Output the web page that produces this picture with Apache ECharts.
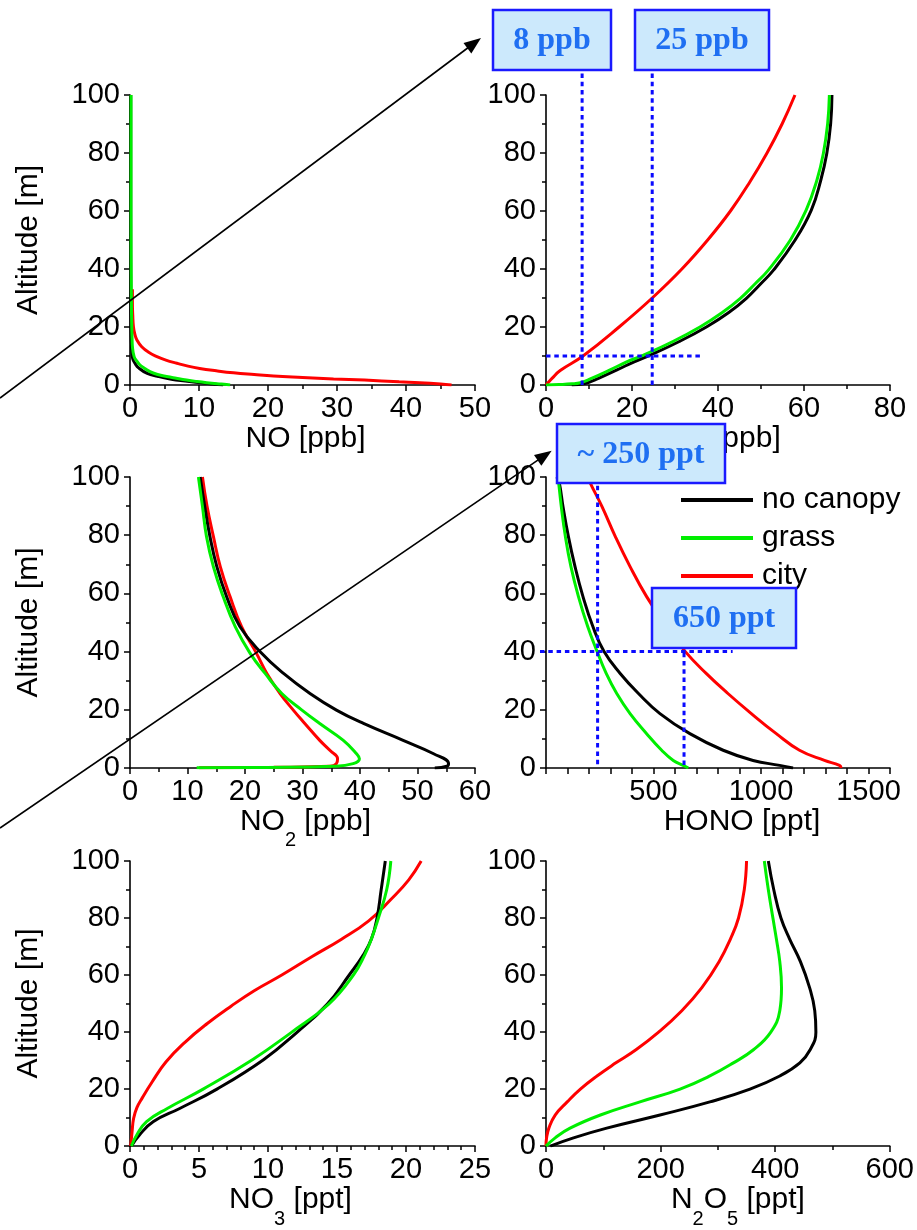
<!DOCTYPE html>
<html><head><meta charset="utf-8">
<script src="https://cdn.jsdelivr.net/npm/echarts@6/dist/echarts.min.js"></script>
<style>html,body{margin:0;padding:0;background:#fff}#c{width:917px;height:1230px}</style>
</head><body><div id="c"></div>
<script>
// ---------- DATA: [concentration, altitude m] ----------
const NO_none  = [[0.1,100],[0.1,40],[0.15,20],[0.25,12],[0.4,9],[0.8,7.2],[1.2,6],[2.5,4],[4,3],[6,2],[8,1.4],[11,0.6],[13.5,0]];
const NO_grass = [[0.15,100],[0.15,60],[0.2,30],[0.25,20],[0.3,16],[0.35,13.2],[0.6,9.8],[1.0,8.2],[1.45,6.9],[2.2,5.6],[2.9,4.6],[4,3.6],[5.3,2.9],[6.7,2.3],[8.2,1.7],[9.7,1.2],[11.1,0.8],[12.6,0.45],[14,0.2],[14.5,0]];
const NO_city  = [[0.35,33],[0.35,28],[0.4,24],[0.5,20],[0.7,17.5],[1.0,15.5],[1.7,13.2],[2.7,11.3],[3.9,9.8],[5.2,8.6],[6.8,7.5],[8.4,6.5],[10.1,5.7],[12.5,4.9],[15,4.2],[18,3.6],[20.8,3.1],[25,2.6],[29.5,2.1],[34,1.7],[39,1.1],[42,0.8],[45,0.35],[46.6,0]];

const O3_none  = [[6,0],[9,0.5],[12.2,2.3],[16.5,5.2],[20.5,8],[24.2,10.3],[31,15],[37.4,20.1],[42.5,25],[46.6,29.9],[50,35],[52.9,39.6],[57.9,49.9],[61.7,60.3],[63.9,70.6],[65.3,79.8],[66.2,90.1],[66.5,100]];
const O3_grass = [[0,0],[3,0.15],[6,0.4],[8,0.8],[10.3,2.1],[14.9,5.2],[18.5,7.8],[22.7,10.3],[29.5,15],[35.9,20.1],[41,25],[45.2,29.9],[48.7,35],[51.7,39.6],[56.8,49.9],[60.5,60.3],[63,70.6],[64.5,79.8],[65.5,90.1],[65.9,100]];
const O3_city  = [[0,0],[0.6,1],[1.4,2.3],[3.3,5],[8.6,10],[17.0,20],[24.7,30],[31.6,40],[37.6,50],[42.9,60],[47.4,70],[51.4,80],[54.9,90],[57.9,100]];

const NO2_none  = [[12.2,100],[13,89.9],[13.9,79.6],[15.1,69.2],[16.8,58.9],[19.1,48.6],[22.9,39.4],[26.7,32.5],[31.3,25.6],[35.9,19.9],[40.6,15.3],[47.5,9.5],[52.8,4.9],[55.4,1.5],[55.1,0.6],[53,0]];
const NO2_grass = [[11.9,100],[12.6,89.9],[13.3,79.6],[14.5,69.2],[16.2,58.9],[18.3,48.6],[20.9,39.4],[23.5,32.5],[26.4,25.6],[29.9,19.9],[33,15.3],[37.1,9.5],[39.4,4.9],[39.9,3.2],[38.8,1.5],[35.4,0.6],[23.8,0.2],[11.6,0.1]];
const NO2_city  = [[12.6,100],[13.4,89.9],[14.5,79.6],[15.7,69.2],[17.4,58.9],[19.4,48.6],[22,39.4],[23.8,32.5],[26.1,25.6],[28.4,19.9],[30.4,15.3],[33,9.5],[34.8,6],[36.1,3.2],[35.9,1.5],[34.8,0.6],[25,0.25],[12,0.1]];

const HONO_none  = [[50,100],[62,97.9],[79,89.9],[104,79.6],[135,69.2],[172,58.9],[218,48.6],[270,40],[345,32.5],[430,25.6],[530,18.7],[669,11.8],[824,6.1],[963,2.6],[1087,0.9],[1149,0]];
const HONO_grass = [[55,100],[59,97.9],[71,89.9],[90,79.6],[116,69.2],[151,58.9],[194,48.6],[238,40],[280,32.5],[329,25.6],[391,18.7],[468,11.8],[538,6.1],[592,2.6],[638,0.9],[662,0]];
const HONO_city  = [[195,100],[206,97.9],[260,89.9],[322,79.6],[391,69.2],[468,58.9],[561,48.6],[648,40],[745,32.5],[846,25.6],[955,18.7],[1071,11.8],[1179,6.1],[1295,2.6],[1365,0.9],[1373,0]];

const NO3_none  = [[0.1,0],[0.7,4],[1.7,8.6],[3.6,13.2],[6.3,20],[9.7,30.4],[12.1,39.9],[14.3,49.8],[15.9,60.1],[16.9,67],[17.5,72.7],[17.9,80],[18.2,89.9],[18.5,100]];
const NO3_grass = [[0.1,0],[0.5,4],[1.2,8.6],[2.7,13.2],[5.3,20],[8.9,30.4],[11.7,39.9],[14.4,49.8],[16.2,60.1],[17,67],[17.5,72.7],[18,80],[18.6,89.9],[18.9,100]];
const NO3_city  = [[0.05,0],[0.15,5],[0.26,9.7],[0.5,13.5],[0.9,17],[1.6,22.5],[2.6,29.5],[4.0,36.5],[5.6,43],[7.3,49],[9.0,54.5],[11.0,60],[13.2,66.5],[15.3,72.5],[17.3,79],[18.9,86.5],[20.2,93.4],[21.1,100]];

const N2O5_none  = [[7.5,0],[48,2.9],[106,6.3],[199,10.9],[286,15.5],[356,20],[408,24.6],[443,29.2],[461,33.8],[471,39.9],[469,47.5],[460,55.6],[444,64.7],[425,72.7],[410,80],[397.5,89.9],[388,100]];
const N2O5_grass = [[0,0],[16,2.9],[42,6.3],[95,10.9],[164,15.5],[234,20],[286,24.6],[327,29.2],[362,33.8],[392,39.9],[408,47.5],[411,55.6],[408,64.7],[402,72.7],[396,80],[388,89.9],[381,100]];
const N2O5_city  = [[0,0],[1,2.9],[5,6.3],[16,10.9],[37,15.5],[60,20],[89,24.6],[122,29.2],[157,33.8],[196,39.9],[237,47.5],[272,55.6],[302,64.7],[322,72.7],[336,80],[346,89.9],[350,100]];

const seriesNames = ['no canopy','grass','city'];
const xNames = ['{a|NO [ppb]}','{a|O}{s|3}{a| [ppb]}','{a|NO}{s|2}{a| [ppb]}','{a|HONO [ppt]}','{a|NO}{s|3}{a| [ppt]}','{a|N}{s|2}{a|O}{s|5}{a| [ppt]}'];
const yName = 'Altitude [m]';
const xMax = [50, 80, 60, 1600, 25, 600];
const xStep = [10, 20, 10, 100, 5, 200];
const xLabelStep = [10, 20, 10, 500, 5, 200];
const xMinorSplit = [2, 2, 2, 0, 5, 2];
const yTicks = [0, 20, 40, 60, 80, 100];
// annotation values
const o3Vlines = [8.4, 24.7], o3Hline = 10, o3HlineEnd = 36.3;
const honoVlines = [240, 642], honoHline = 40, honoHlineEnd = 868;
const boxTexts = ['8 ppb', '25 ppb', '~ 250 ppt', '650 ppt'];

const panelData = [
  [NO_none, NO_grass, NO_city],
  [O3_none, O3_grass, O3_city],
  [NO2_none, NO2_grass, NO2_city],
  [HONO_none, HONO_grass, HONO_city],
  [NO3_none, NO3_grass, NO3_city],
  [N2O5_none, N2O5_grass, N2O5_city]
];
const colors = ['#000000', '#00ee00', '#ff0000'];

// ---------- LAYOUT ----------
const FONT = '"Liberation Sans", Arial, sans-serif';
const grids = [
  {left:130, top:95,  width:345, height:290},
  {left:546, top:95,  width:344, height:290},
  {left:130, top:477, width:345, height:291},
  {left:546, top:477, width:344, height:291},
  {left:130, top:861, width:345, height:291},
  {left:546, top:861, width:344, height:291}
];
const nameShift = [6, 16, 6, 48, -24, 40];

const axisLineStyle = {color:'#000', width:1.6};
const xAxes = grids.map((g, i) => ({
  type:'value', gridIndex:i, min:0, max:xMax[i], interval:xStep[i],
  axisLine:{show:true, onZero:false, lineStyle:axisLineStyle},
  axisTick:{show:true, inside:false, length:6, lineStyle:{color:'#000', width:1.5}},
  minorTick:{show:xMinorSplit[i] > 0, splitNumber:xMinorSplit[i] || 2, length:4, lineStyle:{color:'#000', width:1.5}},
  splitLine:{show:false},
  axisLabel:{interval:0, margin:9, fontSize:29, fontFamily:FONT, color:'#000',
    showMinLabel:true, showMaxLabel:true,
    formatter:(v) => {
      if (i === 3 && v === 0) return '';
      return (Math.abs(v / xLabelStep[i] - Math.round(v / xLabelStep[i])) < 1e-9) ? String(v) : '';
    }},
  name: xNames[i], nameLocation:'middle', nameGap:37,
  nameTextStyle:{
    padding: nameShift[i] >= 0 ? [0,0,0,nameShift[i]] : [0,-nameShift[i],0,0],
    rich:{
      a:{fontSize:30, fontFamily:FONT, color:'#000', lineHeight:32, verticalAlign:'top'},
      s:{fontSize:20, fontFamily:FONT, color:'#000', lineHeight:20, padding:[24,0,0,0], verticalAlign:'top'}
    }
  }
}));
const yAxes = grids.map((g, i) => ({
  type:'value', gridIndex:i, min:yTicks[0], max:yTicks[yTicks.length-1], interval:yTicks[1]-yTicks[0],
  axisLine:{show:true, onZero:false, lineStyle:axisLineStyle},
  axisTick:{show:true, inside:false, length:6, lineStyle:{color:'#000', width:1.5}},
  minorTick:{show:true, splitNumber:2, length:4, lineStyle:{color:'#000', width:1.5}},
  splitLine:{show:false},
  axisLabel:{margin:10, fontSize:29, fontFamily:FONT, color:'#000'},
  name: (i % 2 === 0) ? yName : '', nameLocation:'middle', nameGap:85,
  nameTextStyle:{fontSize:30, fontFamily:FONT, color:'#000', lineHeight:32}
}));

const drawOrder = [2, 0, 1]; // city, no canopy, grass
const series = [];
panelData.forEach((set, i) => {
  drawOrder.forEach(k => {
    series.push({
      type:'line', name:seriesNames[k], xAxisIndex:i, yAxisIndex:i,
      data:set[k], showSymbol:false, symbol:'none', smooth:0.45,
      lineStyle:{color:colors[k], width:3}, itemStyle:{color:colors[k]},
      z:2
    });
  });
});

const option = {
  backgroundColor:'#fff',
  animation:false,
  grid:grids.map(g => Object.assign({containLabel:false}, g)),
  xAxis:xAxes, yAxis:yAxes,
  legend:{
    data:seriesNames, orient:'vertical', left:681, top:485, padding:0, selectedMode:false,
    icon:'rect', itemWidth:72, itemHeight:4, itemGap:8,
    textStyle:{fontSize:30, fontFamily:FONT, color:'#000', lineHeight:30, padding:[0,0,0,4]}
  },
  series:series
};

const chart = echarts.init(document.getElementById('c'), null, {renderer:'canvas'});
chart.setOption(option);

// ---------- ANNOTATIONS ----------
function px(g, x, y) { return chart.convertToPixel({gridIndex:g}, [x, y]); }
const dotted = {stroke:'#0a0aff', lineWidth:3, lineDash:[4.5,3.8]};
const boxStyle = {fill:'#cce9fc', stroke:'#1a1aff', lineWidth:2.5};
const boxes = [
  {x:493, y:10,  w:118, h:60},
  {x:635, y:10,  w:134, h:60},
  {x:557, y:424, w:168, h:59},
  {x:652, y:588, w:144, h:60}
];
const els = [];
function line(x1, y1, x2, y2, style) {
  els.push({type:'line', z:100, shape:{x1, y1, x2, y2}, style:Object.assign({}, style)});
}
// O3 guide lines
o3Vlines.forEach(v => { const p = px(1, v, 0); line(p[0], p[1], p[0], boxes[0].y + boxes[0].h + 2, dotted); });
{ const a = px(1, 0, o3Hline), b = px(1, o3HlineEnd, o3Hline); line(a[0], a[1], b[0], b[1], dotted); }
// HONO guide lines
{ const p = px(3, honoVlines[0], 1.3); line(p[0], p[1], p[0], boxes[2].y + boxes[2].h, dotted); }
{ const p = px(3, honoVlines[1], 1); line(p[0], p[1], p[0], boxes[3].y + boxes[3].h, dotted); }
{ const a = px(3, 0, honoHline), b = px(3, honoHlineEnd, honoHline); line(a[0] - 6, a[1], b[0], b[1], dotted); }
// boxes
boxes.forEach((b, i) => {
  els.push({type:'rect', z:101, shape:{x:b.x, y:b.y, width:b.w, height:b.h}, style:Object.assign({}, boxStyle)});
  els.push({type:'text', z:102, x:b.x + b.w / 2, y:b.y + b.h / 2 + 1,
    style:{text:boxTexts[i], fill:'#1f6ff2', fontSize:32, fontWeight:'bold',
      fontFamily:'"Liberation Serif", "Times New Roman", serif', align:'center', verticalAlign:'middle'}});
});
// arrows
function arrow(x1, y1, x2, y2) {
  const dx = x2 - x1, dy = y2 - y1, L = Math.hypot(dx, dy), ux = dx / L, uy = dy / L;
  const hl = 17, hw = 6.5;
  const bx = x2 - ux * hl, by = y2 - uy * hl;
  line(x1, y1, bx + ux * 2, by + uy * 2, {stroke:'#000', lineWidth:1.6});
  els.push({type:'polygon', z:103, shape:{points:[[x2, y2], [bx - uy * hw, by + ux * hw], [bx + uy * hw, by - ux * hw]]}, style:{fill:'#000'}});
}
arrow(0, 398, 481, 38);
arrow(0, 828, 551.7, 450.7);

chart.setOption({graphic:{elements:els}});
</script></body></html>
